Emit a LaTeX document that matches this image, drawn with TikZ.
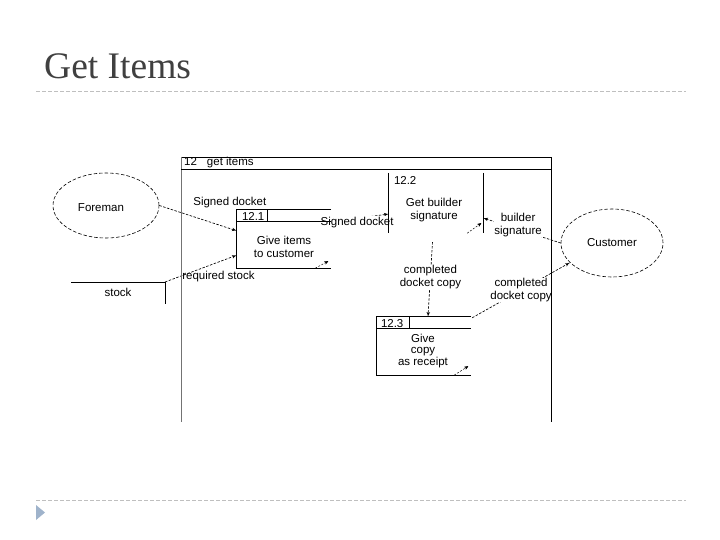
\documentclass[tikz,border=0pt]{standalone}
\usepackage{fontspec}
\setmainfont{Liberation Sans}
\newfontfamily\titlefont{Liberation Serif}
\usetikzlibrary{shapes,arrows,positioning,calc}

\definecolor{titlegray}{HTML}{404040}
\definecolor{rulegray}{HTML}{BFBFBF}
\definecolor{bulletblue}{HTML}{9FB3CB}

\begin{document}
\begin{tikzpicture}[x=1pt, y=-1pt, >=latex', font=\fontsize{11.5}{12.5}\selectfont,
    every text node part/.style={align=center},
    flow/.style={->, dash pattern=on 2.5pt off 1.5pt, line width=0.65pt},
    stub/.style={-stealth', dash pattern=on 2pt off 1.5pt, line width=0.45pt},
    extent/.style={draw, ellipse, dash pattern=on 3.5pt off 2pt, line width=0.6pt, inner sep=0pt},
    procbox/.style={inner sep=0pt, minimum width=94pt, minimum height=58pt},
    lbl/.style={fill=white, inner sep=0.5pt},
    box/.style={line width=0.8pt}]

    \useasboundingbox (0,0) rectangle (720,540);

    % slide title and rules
    \node [anchor=base west, inner sep=0pt, text=titlegray, font=\titlefont\fontsize{37.5}{40}\selectfont] (title) at (44,79) {Get Items};
    \draw [rulegray, dash pattern=on 4pt off 2pt] (36,91) -- (686,91);
    \draw [rulegray, dash pattern=on 4pt off 2pt] (36,500) -- (686,500);
    \fill [bulletblue] (36,505) -- (45,512.5) -- (36,520) -- cycle;

    % externals and store
    \node [extent, minimum width=106pt, minimum height=65pt] (foreman) at (106,205.5) {};
    \node (fm) at (101,208) {Foreman};
    \node [extent, minimum width=102pt, minimum height=68pt] (customer) at (612,243) {Customer};
    \coordinate (stockNE) at (165,282);
    \node (stock) at (118,292) {stock};

    % processes (outlines drawn later)
    \node [procbox] (p121) at (284,239) {};
    \node [procbox, minimum height=60pt] (p122) at (436,203) {};
    \node [procbox] (p123) at (424,346) {};
    \node (t121) at (284,247) {Give items\\to customer};
    \node (t122) at (434,210) {Get builder\\signature};
    \node [font=\fontsize{11.5}{11.5}\selectfont] (t123) at (423,351) {Give\\copy\\as receipt};

    % flows
    \draw [flow] (foreman.east) -- ($(p121.north west)+(0,21)$) node [at end, xshift=-7pt, yshift=28pt] {Signed docket};
    \draw [flow] (stockNE) -- ($(p121.south west)+(0,-13)$) node [at start, anchor=west, xshift=16pt, yshift=5pt, inner sep=1pt] {required stock};
    \draw [flow] ($(p121.north east)+(0,12)$) -- node [lbl, pos=0.45, yshift=-4pt] {Signed docket} ($(p122.west)+(0,11)$);
    \draw [flow] (customer.west) -- node [lbl, pos=0.55, yshift=4pt] {builder\\signature} ($(p122.east)+(0,15)$);
    \draw [flow, shorten <=9pt] ($(p122.south)+(-3,0)$) -- node [lbl, yshift=-2pt] {completed\\docket copy} ($(p123.north)+(4,0)$);
    \draw [flow] ($(p123.north east)+(1,1)$) -- node [lbl] {completed\\docket copy} (customer.205);

    % frame 12
    \coordinate (frameNW) at (181,157);
    \coordinate (frameNE) at (551,157);
    \draw [box] (frameNW) -- (frameNE) -- (551,422);
    \draw [box, black!55] (frameNW) -- (181,422);
    \draw [box] (181,169) -- (551,169);
    \node [anchor=west, inner sep=0pt] (frametitle) at (184,163) {12\hspace{10pt}get items};

    % store outline
    \draw [box] ($(stockNE)+(-94,0)$) -- (stockNE) -- ++(0,22);

    % 12.1
    \draw [box] (p121.north east) -- (p121.north west) -- (p121.south west) -- (p121.south east);
    \draw [box] ($(p121.north west)+(0,12)$) -- ($(p121.north east)+(0,12)$);
    \draw [box] ($(p121.north west)+(31,0)$) -- ++(0,12);
    \node [anchor=west, inner sep=0pt] (n121) at ($(p121.north west)+(5,6.5)$) {12.1};
    \draw [stub] ($(p121.south east)+(-16,0)$) -- ++(13,-7);

    % 12.2
    \draw [box] (p122.north west) -- (p122.south west);
    \draw [box] (p122.north east) -- (p122.south east);
    \node [anchor=west, inner sep=0pt] (n122) at ($(p122.north west)+(5,8)$) {12.2};
    \draw [stub] ($(p122.south east)+(-16,0)$) -- ++(14,-10);

    % 12.3
    \draw [box] (p123.north east) -- (p123.north west) -- (p123.south west) -- (p123.south east);
    \draw [box] ($(p123.north west)+(0,12)$) -- ($(p123.north east)+(0,12)$);
    \draw [box] ($(p123.north west)+(33,0)$) -- ++(0,12);
    \node [anchor=west, inner sep=0pt] (n123) at ($(p123.north west)+(4,6.5)$) {12.3};
    \draw [stub] ($(p123.south east)+(-17,0)$) -- ++(14,-9);
\end{tikzpicture}
\end{document}
